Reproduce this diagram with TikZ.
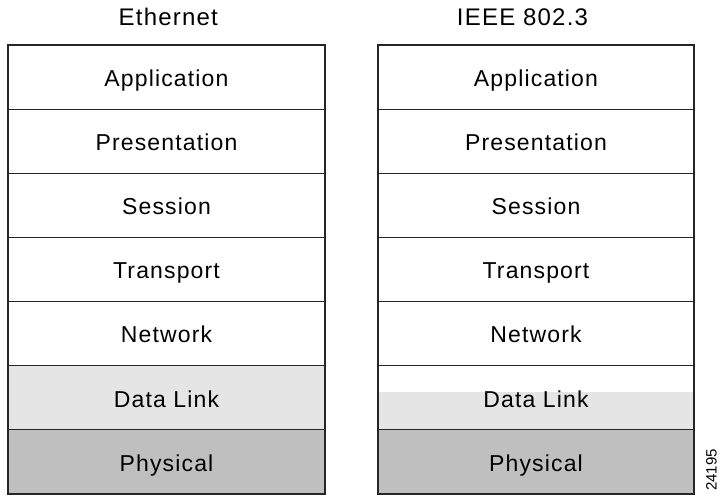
\documentclass[tikz,border=0pt]{standalone}
\usepackage{fontspec}
\setmainfont{Liberation Sans}[LetterSpace=5]
\newfontfamily\tagfont{Liberation Sans}
\begin{document}
\begin{tikzpicture}[x=1pt,y=1pt,
  layer/.style={draw=black!85, line width=1.2pt, rectangle, inner sep=0pt, outer sep=0pt,
    minimum width=317pt, minimum height=64.14pt, anchor=north west,
    text height=18.5pt, text depth=0pt,
    font=\fontsize{23}{27}\selectfont},
  lightfill/.style={fill=black!10},
  darkfill/.style={fill=black!25},
  title/.style={inner sep=0pt, text height=17pt, text depth=0pt,
    font=\fontsize{24}{28}\selectfont}]
\useasboundingbox (0,0) rectangle (722,495);

% column headings
\node[title] (hL) at (168.3,477.8) {Ethernet};
\node[title] (hR) at (522.5,477.8) {IEEE 802.3};

% partial shading inside the IEEE 802.3 data link layer
\fill[black!10] (378,65) rectangle (694,103.3);

% Ethernet stack
\node[layer] (l1) at (8,450) {Application};
\node[layer] (l2) at (l1.south west) {Presentation};
\node[layer] (l3) at (l2.south west) {Session};
\node[layer] (l4) at (l3.south west) {Transport};
\node[layer] (l5) at (l4.south west) {Network};
\node[layer,lightfill] (l6) at (l5.south west) {Data Link};
\node[layer,darkfill] (l7) at (l6.south west) {Physical};

% IEEE 802.3 stack
\node[layer,minimum width=316pt] (r1) at (378,450) {Application};
\node[layer,minimum width=316pt] (r2) at (r1.south west) {Presentation};
\node[layer,minimum width=316pt] (r3) at (r2.south west) {Session};
\node[layer,minimum width=316pt] (r4) at (r3.south west) {Transport};
\node[layer,minimum width=316pt] (r5) at (r4.south west) {Network};
\node[layer,minimum width=316pt] (r6) at (r5.south west) {Data Link};
\node[layer,minimum width=316pt,darkfill] (r7) at (r6.south west) {Physical};

% figure number
\node[rotate=90, font=\tagfont\fontsize{15}{17}\selectfont] (fig) at (711.5,25) {24195};
\end{tikzpicture}
\end{document}
